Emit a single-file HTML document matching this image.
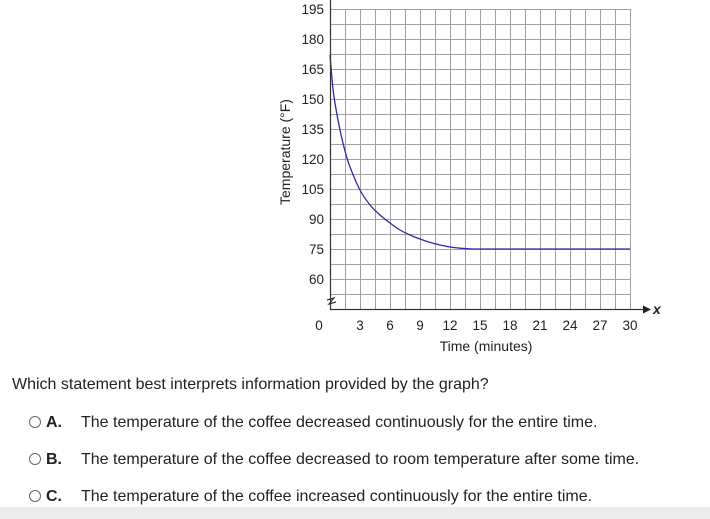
<!DOCTYPE html>
<html><head><style>
body{margin:0;width:710px;height:519px;background:#fff;position:relative;overflow:hidden;font-family:"Liberation Sans",Arial,sans-serif;color:#222}
.t{position:absolute;font-size:16px;white-space:nowrap;line-height:1}
.c{position:absolute;width:10px;height:10px;border:1px solid #666;border-radius:50%}
</style></head><body>
<svg width="710" height="519" style="position:absolute;left:0;top:0">
<g id="grid" stroke="#a0a0a0" stroke-width="1" fill="none"></g>
<path id="curve" fill="none" stroke="#2a2aa8" stroke-width="1.3"/>
<line x1="330.5" y1="0" x2="330.5" y2="309" stroke="#333" stroke-width="1.2"/>
<line x1="330" y1="309.5" x2="645" y2="309.5" stroke="#333" stroke-width="1.2"/>
<polygon points="651,309.5 643,305.5 643,313.5" fill="#222"/>
<path d="M327,300 l7,-2 l-5,6 l7,-2" stroke="#333" fill="none" stroke-width="1.2"/>
<text x="653" y="314" font-family="Liberation Sans" font-size="14" font-style="italic" font-weight="bold" fill="#222">x</text>
<g font-family="Liberation Sans" font-size="13.5" fill="#222" text-anchor="end" id="yl"></g>
<g font-family="Liberation Sans" font-size="13.5" fill="#222" text-anchor="middle" id="xl"></g>
<text x="486" y="351" font-family="Liberation Sans" font-size="14" fill="#222" text-anchor="middle">Time (minutes)</text>
<text transform="translate(290,152) rotate(-90)" font-family="Liberation Sans" font-size="14" fill="#222" text-anchor="middle">Temperature (°F)</text>
<rect x="0" y="507" width="710" height="12" fill="#ececec"/>
</svg>
<div class="t" style="left:12px;top:377px">Which statement best interprets information provided by the graph?</div>
<div class="c" style="left:29px;top:416px"></div><div class="t" style="left:46px;top:415px;font-weight:bold">A.</div><div class="t" style="left:81px;top:415px">The temperature of the coffee decreased continuously for the entire time.</div>
<div class="c" style="left:29px;top:453px"></div><div class="t" style="left:46px;top:452px;font-weight:bold">B.</div><div class="t" style="left:81px;top:452px">The temperature of the coffee decreased to room temperature after some time.</div>
<div class="c" style="left:29px;top:490px"></div><div class="t" style="left:46px;top:489px;font-weight:bold">C.</div><div class="t" style="left:81px;top:489px">The temperature of the coffee increased continuously for the entire time.</div>
<script>
var ns="http://www.w3.org/2000/svg",g=document.getElementById('grid');
function el(p,n,a){var e=document.createElementNS(ns,n);for(var k in a)e.setAttribute(k,a[k]);p.appendChild(e);return e;}
for(var i=1;i<=20;i++){el(g,'line',{x1:330+i*15+.5,y1:9,x2:330+i*15+.5,y2:309});}
for(var j=0;j<20;j++){el(g,'line',{x1:330,y1:9+j*15+.5,x2:630,y2:9+j*15+.5});}
var yl=document.getElementById('yl');
for(var v=60;v<=195;v+=15){var t=el(yl,'text',{x:324,y:9+(195-v)*2+5});t.textContent=v;}
var xl=document.getElementById('xl');
var t0=el(xl,'text',{x:319,y:330});t0.textContent='0';
for(var m=3;m<=30;m+=3){var t=el(xl,'text',{x:330+m*10,y:330});t.textContent=m;}
var P=[[0,172],[0.3,155],[0.6,145],[1,134.5],[1.5,124],[2,116],[3,104.5],[4,97],[5,92],[6,88],[7,84.5],[8,82],[9,80],[10,78.3],[11,77],[12,76],[13,75.4],[14,75.05],[15,75],[30,75]];
function X(t){return 330+t*10;}function Y(v){return 9+(195-v)*2;}
var d='M'+X(P[0][0])+','+Y(P[0][1]);
for(var i=0;i<P.length-1;i++){var p0=P[Math.max(0,i-1)],p1=P[i],p2=P[i+1],p3=P[Math.min(P.length-1,i+2)];
if(i==P.length-2){d+='L'+X(p2[0])+','+Y(p2[1]);break;}
var c1x=X(p1[0])+(X(p2[0])-X(p0[0]))/6,c1y=Y(p1[1])+(Y(p2[1])-Y(p0[1]))/6;
var c2x=X(p2[0])-(X(p3[0])-X(p1[0]))/6,c2y=Y(p2[1])-(Y(p3[1])-Y(p1[1]))/6;
if(i==P.length-3){c2x=X(p2[0])-3;c2y=Y(p2[1]);}
d+='C'+c1x+','+c1y+' '+c2x+','+c2y+' '+X(p2[0])+','+Y(p2[1]);}
document.getElementById('curve').setAttribute('d',d);
</script>
</body></html>
